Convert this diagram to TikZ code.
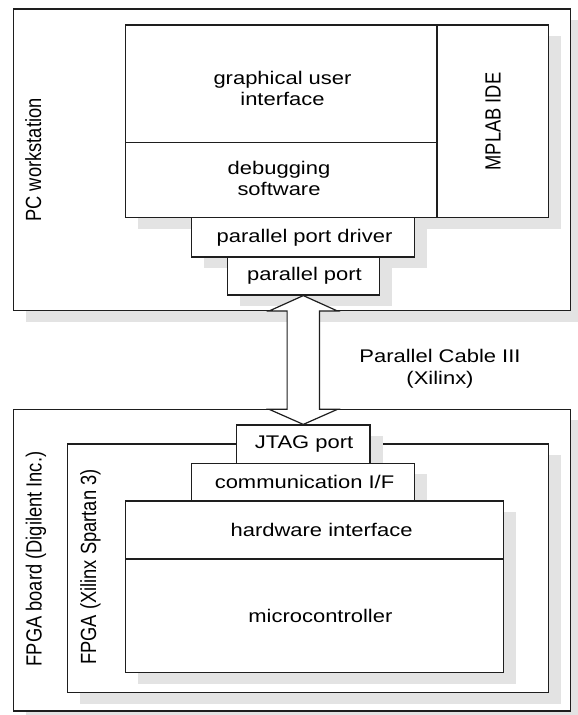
\documentclass[tikz,border=0pt]{standalone}
\usepackage{fontspec}
\usepackage{graphicx}
\setmainfont{Liberation Sans}[FakeStretch=1.2]
\newfontfamily\uprightlabel{Liberation Sans}
\usetikzlibrary{shadows,fit,calc}

\definecolor{shadowgray}{RGB}{227,227,227}
\definecolor{edge}{RGB}{30,30,30}

\tikzset{
  box/.style={draw=edge, line width=0.6pt, fill=white, inner sep=0pt,
    drop shadow={shadow xshift=6.35pt, shadow yshift=-5.5pt,
                 fill=shadowgray, opacity=1}},
  lbl/.style={font=\fontsize{9.15}{10.75}\selectfont, inner sep=0pt, align=center},
  vlbl/.style={font={\uprightlabel\fontsize{9.15}{10.75}\selectfont},
    inner sep=0pt, rotate=90, anchor=base},
  bigarrow/.style={draw=edge, line width=0.6pt, fill=white, line join=miter},
}

\begin{document}
\begin{tikzpicture}[x=0.5pt, y=-0.5pt]
\useasboundingbox (0,0) rectangle (577,715);

% PC side
\node[box, fit={(13.6,9) (570.5,310.5)}] (pc) {};
\node[box, fit={(125.1,25) (436.9,142.3)}] (gui) {};
\node[box, fit={(125.1,142.3) (436.9,217.7)}] (dbg) {};
\node[box, fit={(436.9,25) (548.4,217.7)}] (ide) {};
\node[box, fit={(191.4,217.7) (414.4,257)}] (drv) {};
\node[box, fit={(227.5,257) (379.1,295)}] (pp) {};

% FPGA side
\node[box, fit={(13.6,409.3) (570.5,711)}] (board) {};
\node[box, fit={(67.4,444) (548.4,692.7)}] (fpga) {};
\node[box, fit={(236.3,425) (369.9,463.3)}] (jtag) {};
\node[box, fit={(191.4,463.3) (414.4,501)}] (comm) {};
\node[box, fit={(125.1,501) (503.5,559)}] (hw) {};
\node[box, fit={(125.1,559) (503.5,672.7)}] (mcu) {};

% cable: double-headed block arrow from parallel port to JTAG port
\draw[bigarrow] let \p1=(pp.south), \p2=(jtag.north) in
  (\p1) -- (\x1+17.2pt,\y1-7.75pt) -- (\x1+8.1pt,\y1-7.75pt)
  -- (\x1+8.1pt,\y2+7.6pt) -- (\x1+17.2pt,\y2+7.6pt) -- (\x1,\y2)
  -- (\x1-17.2pt,\y2+7.6pt) -- (\x1-8.1pt,\y2+7.6pt)
  -- (\x1-8.1pt,\y1-7.75pt) -- (\x1-17.2pt,\y1-7.75pt) -- cycle;

% labels
\node[vlbl] (pclbl) at (41,160) {\scalebox{1}[1.2]{PC workstation}};
\node[vlbl] (idelbl) at (500.5,121.5) {\scalebox{1}[1.2]{MPLAB IDE}};
\node[vlbl] (boardlbl) at (41.5,559) {\scalebox{1}[1.2]{FPGA board (Digilent Inc.)}};
\node[vlbl] (fpgalbl) at (96,567) {\scalebox{1}[1.2]{FPGA (Xilinx Spartan 3)}};

\node[lbl] (guilbl) at (282.5,88.5) {graphical user\\interface};
\node[lbl] (dbglbl) at (279,178.5) {debugging\\software};
\node[lbl] (drvlbl) at (304.5,237.5) {parallel port driver};
\node[lbl] (pplbl) at (304.5,276) {parallel port};
\node[lbl] (cablelbl) at (440,369) {Parallel Cable III\\(Xilinx)};
\node[lbl] (jtaglbl) at (304,444.2) {JTAG port};
\node[lbl] (commlbl) at (304.5,482.2) {communication I/F};
\node[lbl] (hwlbl) at (321.6,530) {hardware interface};
\node[lbl] (mculbl) at (320.4,616) {microcontroller};
\end{tikzpicture}
\end{document}
